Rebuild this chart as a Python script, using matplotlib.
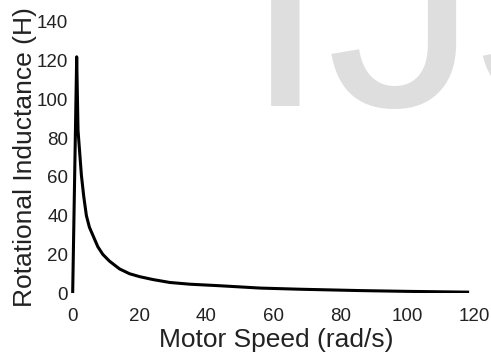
import matplotlib.pyplot as plt

# Rotational inductance vs motor speed (read-off points)
speed = [0, 1.2, 1.6, 2.6, 3.3, 4.1, 5, 6, 7.5, 9, 11, 14, 17, 20,
         24, 29, 35, 44, 56, 68, 86, 100, 118]
inductance = [0, 122, 84, 61, 50, 40, 34, 30, 24, 20, 16.5, 12.5, 10, 8.5,
              7, 5.5, 4.6, 3.8, 2.6, 2.0, 1.3, 0.9, 0.5]

x_ticks = [0, 20, 40, 60, 80, 100, 120]
y_ticks = [0, 20, 40, 60, 80, 100, 120, 140]

plt.rcParams['font.family'] = ['Liberation Sans', 'DejaVu Sans']

W, H = 491, 354
fig = plt.figure(figsize=(W / 100, H / 100), dpi=100)
fig.patch.set_facecolor('white')

# light watermark behind the plot
wm = dict(fontsize=219, color='#dedede', ha='left', va='baseline', zorder=-1)
fig.text(243 / W, 1 - 106 / H, 'IJ', **wm)
fig.text(468 / W, 1 - 106 / H, 'S', **wm)

ax = fig.add_axes([0.1446, 0.172, 0.835, 0.766])
ax.patch.set_alpha(0)

ax.plot(speed, inductance, color='black', lw=2.2, solid_joinstyle='round')

ax.set_xlim(-0.5, 122)
ax.set_ylim(0, 140)
ax.set_xticks(x_ticks)
ax.set_yticks(y_ticks)
ax.tick_params(length=0, labelsize=13.5, labelcolor='#222222')
ax.tick_params(axis='x', pad=11)
ax.tick_params(axis='y', pad=2)
for s in ax.spines.values():
    s.set_visible(False)

ax.set_xlabel('Motor Speed (rad/s)', fontsize=19, color='#222222', labelpad=2)
ax.set_ylabel('Rotational Inductance (H)', fontsize=19, color='#222222',
              labelpad=0)

fig.savefig('out.png', dpi=100)
